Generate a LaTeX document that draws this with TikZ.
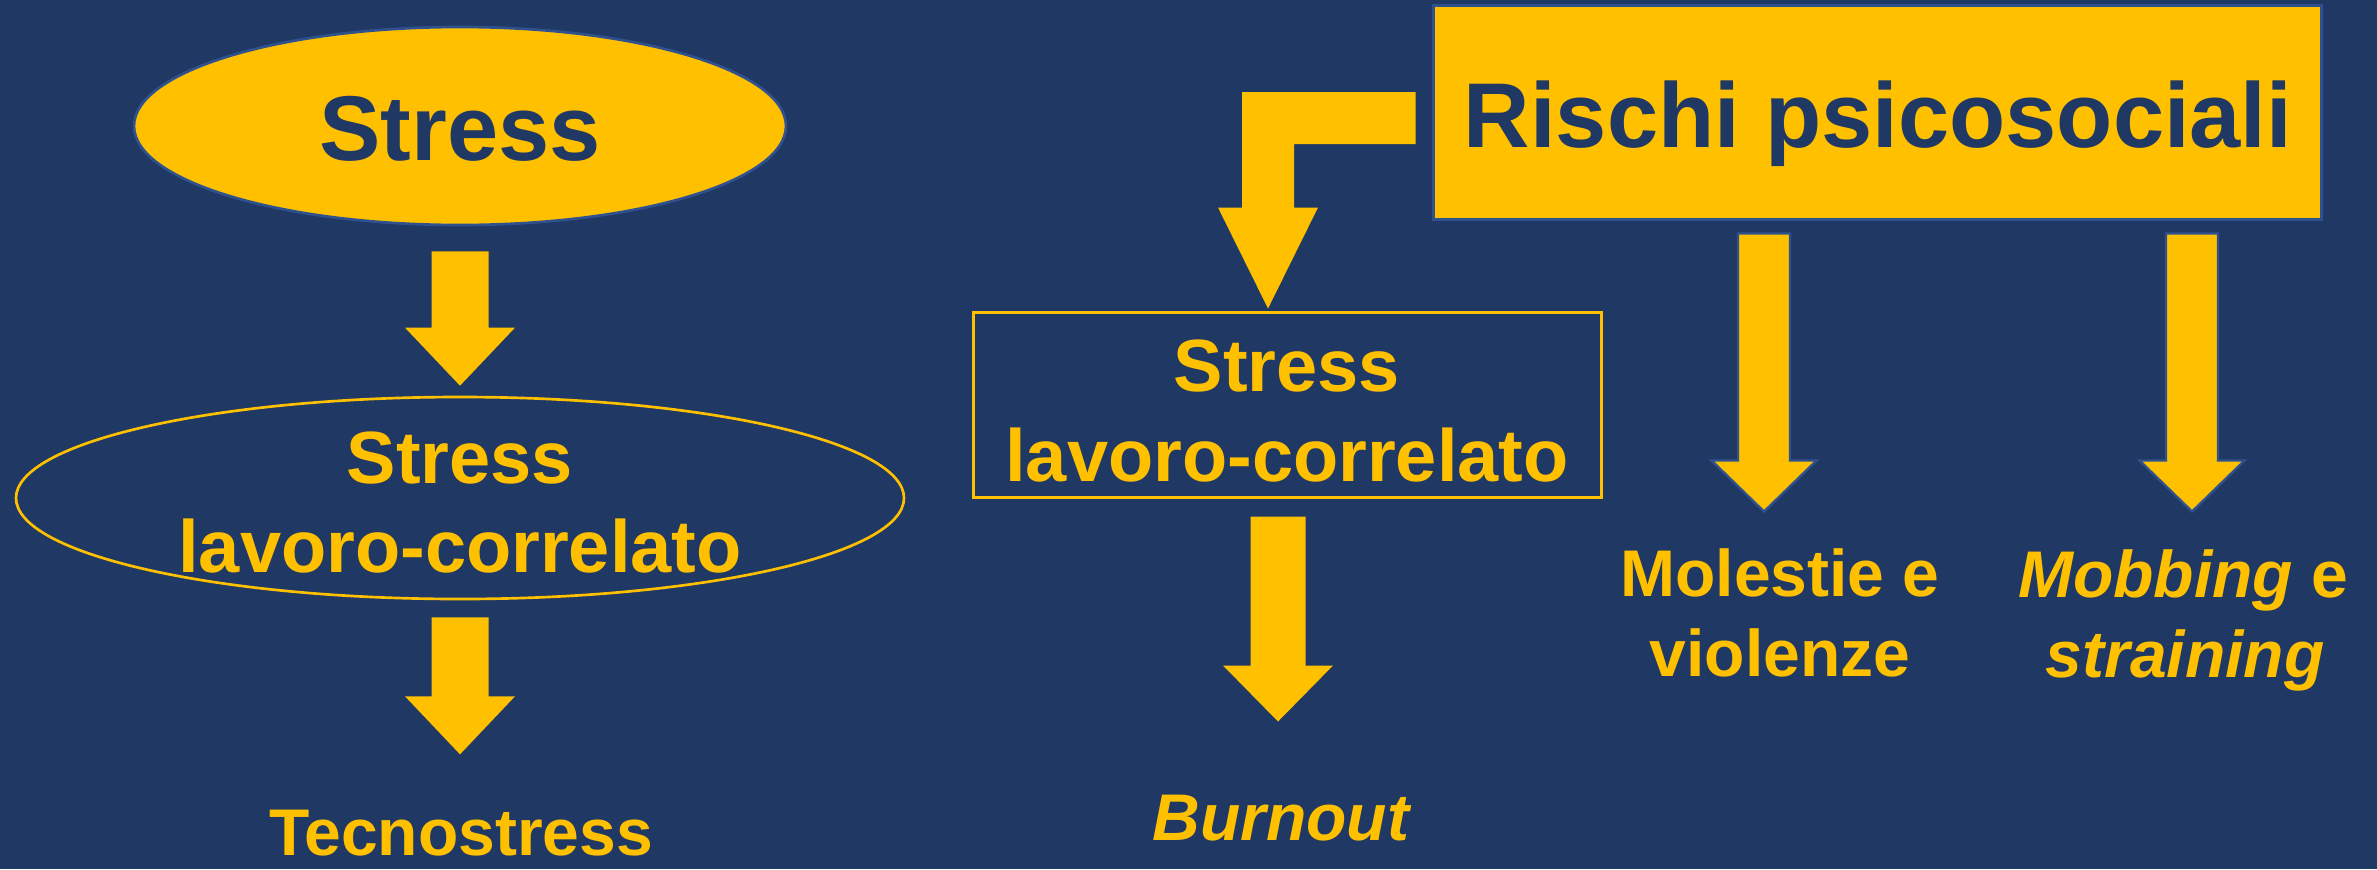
\documentclass[tikz,border=0pt]{standalone}
\usepackage{fontspec}
\setmainfont{Liberation Sans}
\usetikzlibrary{shapes.geometric,calc}
\definecolor{bgblue}{HTML}{203864}
\definecolor{yel}{HTML}{FFC000}
\definecolor{edgeblue}{HTML}{2F528F}
% #2 start, #3 tip, #4 shaft half width, #5 head half width, #6 head length (px)
\newcommand{\blkarrow}[6][]{%
  \path[blockarrow,#1] ($(#2)+(-#4,0)$) -- ($(#2)+(#4,0)$) -- ($(#3)+(#4,-#6)$) -- ($(#3)+(#5,-#6)$) -- (#3) -- ($(#3)+(-#5,-#6)$) -- ($(#3)+(-#4,-#6)$) -- cycle;}
\begin{document}
\begin{tikzpicture}[x=0.3pt,y=-0.3pt,
  blockarrow/.style={fill=yel},
  outlined/.style={draw=edgeblue,line width=0.7pt},
  bigdark/.style={text=bgblue,font=\bfseries\fontsize{27.6pt}{33pt}\selectfont,inner sep=0pt,anchor=base},
  midyel/.style={text=yel,font=\bfseries\fontsize{22.2pt}{26pt}\selectfont,inner sep=0pt,anchor=base},
  smallyel/.style={text=yel,font=\bfseries\fontsize{19.8pt}{24pt}\selectfont,inner sep=0pt,anchor=base},
  fillell/.style={ellipse,fill=yel,draw=edgeblue,line width=0.8pt,inner sep=0pt,minimum width=195.6pt,minimum height=59.4pt},
  lineell/.style={ellipse,draw=yel,line width=0.8pt,inner sep=0pt,minimum width=266.4pt,minimum height=60.6pt},
  linebox/.style={rectangle,draw=yel,line width=0.9pt,inner sep=0pt,minimum width=188.4pt,minimum height=55.5pt},
  fillbox/.style={rectangle,fill=yel,draw=edgeblue,line width=0.9pt,inner sep=0pt,minimum width=266.4pt,minimum height=64.2pt}]
\fill[bgblue] (0,0) rectangle (2377,869);
\useasboundingbox (0,0) rectangle (2377,869);

% left column
\node[fillell] (stress) at (460,126) {};
\node[bigdark] (stressT) at (460,160) {Stress};
\node[lineell] (lce) at (460,498) {};
\node[midyel] (lceT1) at (460,483) {Stress};
\node[midyel] (lceT2) at (460,572) {lavoro-correlato};
\node[smallyel] (tecno) at (461,855) {Tecnostress};

\coordinate (a1s) at ($(stress.south)+(0,25)$);
\coordinate (a1t) at ($(lce.north)+(0,-10)$);
\blkarrow{a1s}{a1t}{28.5}{55}{58}
\coordinate (a2s) at ($(lce.south)+(0,17)$);
\coordinate (a2t) at ($(lce.south)+(0,154)$);
\blkarrow{a2s}{a2t}{28.5}{55}{58}

% middle column
\node[linebox] (slc) at (1287,404.5) {};
\node[midyel] (slcT1) at (1287,391) {Stress};
\node[midyel] (slcT2) at (1287,481) {lavoro-correlato};
\node[smallyel] (burn) at (1282,840) {\textit{Burnout}};
\coordinate (a3s) at ($(slc.south)+(-9,18)$);
\coordinate (a3t) at ($(slc.south)+(-9,223)$);
\blkarrow{a3s}{a3t}{27.5}{55}{56}

% right part
\node[fillbox] (rischi) at (1877,112) {};
\node[bigdark] (rischiT) at (1878,147) {Rischi psicosociali};

\coordinate (bs) at ($(rischi.west)+(-16,6)$);
\coordinate (bt) at ($(slc.north)+(-19,-2)$);
\fill[yel] let \p1=(bs), \p2=(bt) in
  (\x1,\y1+7.8pt) -- (\x2-7.8pt,\y1+7.8pt) -- (\x2-7.8pt,\y2+30.3pt) -- (\x2-15pt,\y2+30.3pt) -- (\x2,\y2)
  -- (\x2+15pt,\y2+30.3pt) -- (\x2+7.8pt,\y2+30.3pt) -- (\x2+7.8pt,\y1-7.8pt) -- (\x1,\y1-7.8pt) -- cycle;

\coordinate (a4s) at ($(rischi.south)+(-113,13)$);
\coordinate (a4t) at ($(rischi.south)+(-113,291)$);
\blkarrow[outlined]{a4s}{a4t}{26}{52.5}{51}
\coordinate (a5s) at ($(rischi.south)+(315,13)$);
\coordinate (a5t) at ($(rischi.south)+(315,291)$);
\blkarrow[outlined]{a5s}{a5t}{26}{52.5}{51}

\node[smallyel] (mol1) at (1780,596) {Molestie e};
\node[smallyel] (mol2) at (1780,676) {violenze};
\node[smallyel] (mob1) at (2183,597) {\textit{Mobbing} e};
\node[smallyel] (mob2) at (2185,677) {\textit{straining}};
\end{tikzpicture}
\end{document}
